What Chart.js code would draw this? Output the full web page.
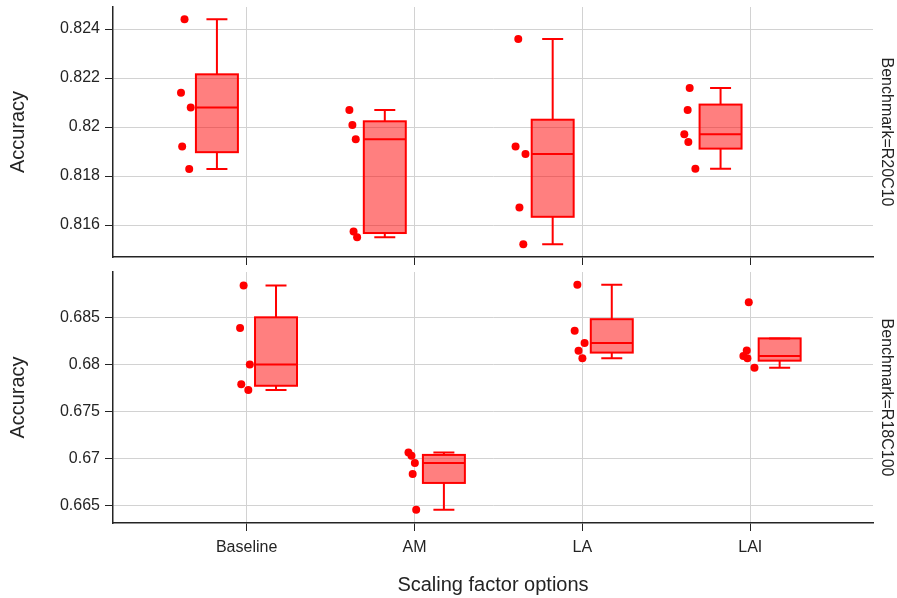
<!DOCTYPE html>
<html>
<head>
<meta charset="utf-8">
<script src="https://cdn.jsdelivr.net/npm/chart.js@4.4.1/dist/chart.umd.min.js"></script>
<style>
  body { margin: 0; background: #fff; }
  #wrap { position: relative; width: 897px; height: 598px; }
  #wrap canvas { position: absolute; left: 0; }
  #topChart { top: 0; }
  #bottomChart { top: 265px; }
</style>
</head>
<body>
<div id="wrap">
  <canvas id="topChart" width="897" height="265"></canvas>
  <canvas id="bottomChart" width="897" height="333"></canvas>
</div>
<script>
var categories = ['Baseline', 'AM', 'LA', 'LAI'];

// Benchmark=R20C10, five runs per option
var r20Baseline = [0.82440, 0.82140, 0.82080, 0.81920, 0.81829];
var r20AM = [0.82069, 0.82008, 0.81950, 0.81573, 0.81550];
var r20LA = [0.82359, 0.81920, 0.81890, 0.81671, 0.81521];
var r20LAI = [0.82159, 0.82069, 0.81970, 0.81939, 0.81830];

// Benchmark=R18C100
var r18Baseline = [0.68839, 0.68388, 0.68000, 0.67790, 0.67730];
var r18AM = [0.67068, 0.67033, 0.66956, 0.66839, 0.66461];
var r18LA = [0.68847, 0.68359, 0.68228, 0.68147, 0.68066];
var r18LAI = [0.68660, 0.68150, 0.68091, 0.68066, 0.67967];

// horizontal jitter of the points (category units), same for both benchmarks
var jitterBaseline = [-0.003, -0.024, 0.034, -0.017, 0.025];
var jitterAM = [-0.021, -0.003, 0.017, 0.004, 0.025];
var jitterLA = [-0.015, -0.031, 0.028, -0.008, 0.015];
var jitterLAI = [0.006, -0.006, -0.026, -0.002, 0.040];

var topTicks = [0.816, 0.818, 0.820, 0.822, 0.824];
var topTickLabels = ['0.816', '0.818', '0.82', '0.822', '0.824'];
var bottomTicks = [0.665, 0.670, 0.675, 0.680, 0.685];
var bottomTickLabels = ['0.665', '0.67', '0.675', '0.68', '0.685'];

var boxWidth = 0.25;
var pointShift = -0.19;
var red = 'rgb(255,0,0)';
var redFill = 'rgba(255,0,0,0.5)';
var ink = 'rgb(36,36,36)';
var gridColor = 'rgb(210,210,210)';
var fontFamily = '"Liberation Sans", Arial, sans-serif';

// plotly "linear" quartiles
function quartile(sorted, p) {
    var n = sorted.length;
    var pos = n * p - 0.5;
    if (pos <= 0) return sorted[0];
    if (pos >= n - 1) return sorted[n - 1];
    var i = Math.floor(pos), f = pos - i;
    return sorted[i] + f * (sorted[i + 1] - sorted[i]);
}

function boxStats(values, x) {
    var s = values.slice().sort(function(a, b) { return a - b; });
    var q1 = quartile(s, 0.25), med = quartile(s, 0.5), q3 = quartile(s, 0.75);
    var iqr = q3 - q1;
    var inside = s.filter(function(v) { return v >= q1 - 1.5 * iqr && v <= q3 + 1.5 * iqr; });
    return {
        x: x, q1: q1, med: med, q3: q3,
        lo: Math.min(inside[0], q1),
        hi: Math.max(inside[inside.length - 1], q3)
    };
}

var boxPlugin = {
    id: 'boxes',
    beforeDatasetsDraw: function(chart) {
        var xs = chart.scales.x, ys = chart.scales.y, ctx = chart.ctx;
        var half = (xs.getPixelForValue(boxWidth) - xs.getPixelForValue(0)) / 2;
        ctx.save();
        ctx.lineWidth = 2;
        ctx.strokeStyle = red;
        ctx.fillStyle = redFill;
        chart.$boxes.forEach(function(b) {
            var cx = xs.getPixelForValue(b.x);
            var y1 = ys.getPixelForValue(b.q1), y3 = ys.getPixelForValue(b.q3);
            var ym = ys.getPixelForValue(b.med);
            var ylo = ys.getPixelForValue(b.lo), yhi = ys.getPixelForValue(b.hi);
            ctx.fillRect(cx - half, y3, 2 * half, y1 - y3);
            ctx.strokeRect(cx - half, y3, 2 * half, y1 - y3);
            ctx.beginPath();
            ctx.moveTo(cx - half, ym); ctx.lineTo(cx + half, ym);
            ctx.moveTo(cx, y3); ctx.lineTo(cx, yhi);
            ctx.moveTo(cx, y1); ctx.lineTo(cx, ylo);
            ctx.moveTo(cx - half / 2, yhi); ctx.lineTo(cx + half / 2, yhi);
            ctx.moveTo(cx - half / 2, ylo); ctx.lineTo(cx + half / 2, ylo);
            ctx.stroke();
        });
        ctx.restore();
    }
};

var sideLabelPlugin = {
    id: 'sideLabel',
    afterDraw: function(chart) {
        var a = chart.chartArea, ctx = chart.ctx;
        ctx.save();
        ctx.translate(886, (a.top + a.bottom) / 2);
        ctx.rotate(Math.PI / 2);
        ctx.font = '16px ' + fontFamily;
        ctx.fillStyle = ink;
        ctx.textAlign = 'center';
        ctx.textBaseline = 'middle';
        ctx.fillText(chart.$sideLabel, 0, 0);
        ctx.restore();
    }
};

function makePanel(id, series, boxOffset, yMin, yMax, ticks, tickLabels, sideLabel, bottom) {
    var jitters = [jitterBaseline, jitterAM, jitterLA, jitterLAI];
    var points = [];
    var boxes = [];
    series.forEach(function(vals, i) {
        boxes.push(boxStats(vals, i + boxOffset));
        vals.forEach(function(v, k) {
            points.push({ x: i + boxOffset + pointShift + jitters[i][k], y: v });
        });
    });

    var chart = new Chart(document.getElementById(id).getContext('2d'), {
        type: 'scatter',
        data: {
            datasets: [{
                data: points,
                backgroundColor: red,
                borderWidth: 0,
                pointRadius: 4,
                pointHoverRadius: 4
            }]
        },
        options: {
            responsive: false,
            animation: false,
            layout: { padding: { top: 7, right: 24, left: 0, bottom: 0 } },
            plugins: { legend: { display: false }, tooltip: { enabled: false } },
            scales: {
                x: {
                    type: 'linear',
                    min: -0.796,
                    max: 3.731,
                    afterBuildTicks: function(scale) {
                        scale.ticks = categories.map(function(c, i) { return { value: i }; });
                    },
                    afterFit: function(scale) {
                        scale.height = bottom ? 75 : 8;
                        scale.paddingLeft = 0;
                        scale.paddingRight = 0;
                    },
                    grid: { color: gridColor, tickColor: ink, tickLength: 8 },
                    border: { color: ink, width: 1.5 },
                    ticks: {
                        display: bottom,
                        padding: 7,
                        maxRotation: 0,
                        color: ink,
                        font: { family: fontFamily, size: 16 },
                        callback: function(v) { return categories[v]; }
                    },
                    title: {
                        display: bottom,
                        text: 'Scaling factor options',
                        color: ink,
                        font: { family: fontFamily, size: 20, lineHeight: 1.2 },
                        padding: { top: 0, bottom: 1 }
                    }
                },
                y: {
                    min: yMin,
                    max: yMax,
                    afterBuildTicks: function(scale) {
                        scale.ticks = ticks.map(function(v) { return { value: v }; });
                    },
                    afterFit: function(scale) {
                        scale.width = 113;
                        scale.paddingTop = 0;
                        scale.paddingBottom = 0;
                    },
                    grid: { color: gridColor, tickColor: ink, tickLength: 8 },
                    border: { color: ink, width: 1.5 },
                    ticks: {
                        padding: 5,
                        color: ink,
                        font: { family: fontFamily, size: 16 },
                        callback: function(v) { return tickLabels[ticks.indexOf(v)]; }
                    },
                    title: {
                        display: true,
                        text: 'Accuracy',
                        color: ink,
                        font: { family: fontFamily, size: 20, lineHeight: 1.2 },
                        padding: { top: 6, bottom: 0 }
                    }
                }
            }
        },
        plugins: [{
            id: 'setup',
            beforeInit: function(c) { c.$boxes = boxes; c.$sideLabel = sideLabel; }
        }, boxPlugin, sideLabelPlugin]
    });
    return chart;
}

makePanel('topChart', [r20Baseline, r20AM, r20LA, r20LAI], -0.177,
    0.814694, 0.824898, topTicks, topTickLabels, 'Benchmark=R20C10', false);
makePanel('bottomChart', [r18Baseline, r18AM, r18LA, r18LAI], 0.175,
    0.663197, 0.689814, bottomTicks, bottomTickLabels, 'Benchmark=R18C100', true);
</script>
</body>
</html>
